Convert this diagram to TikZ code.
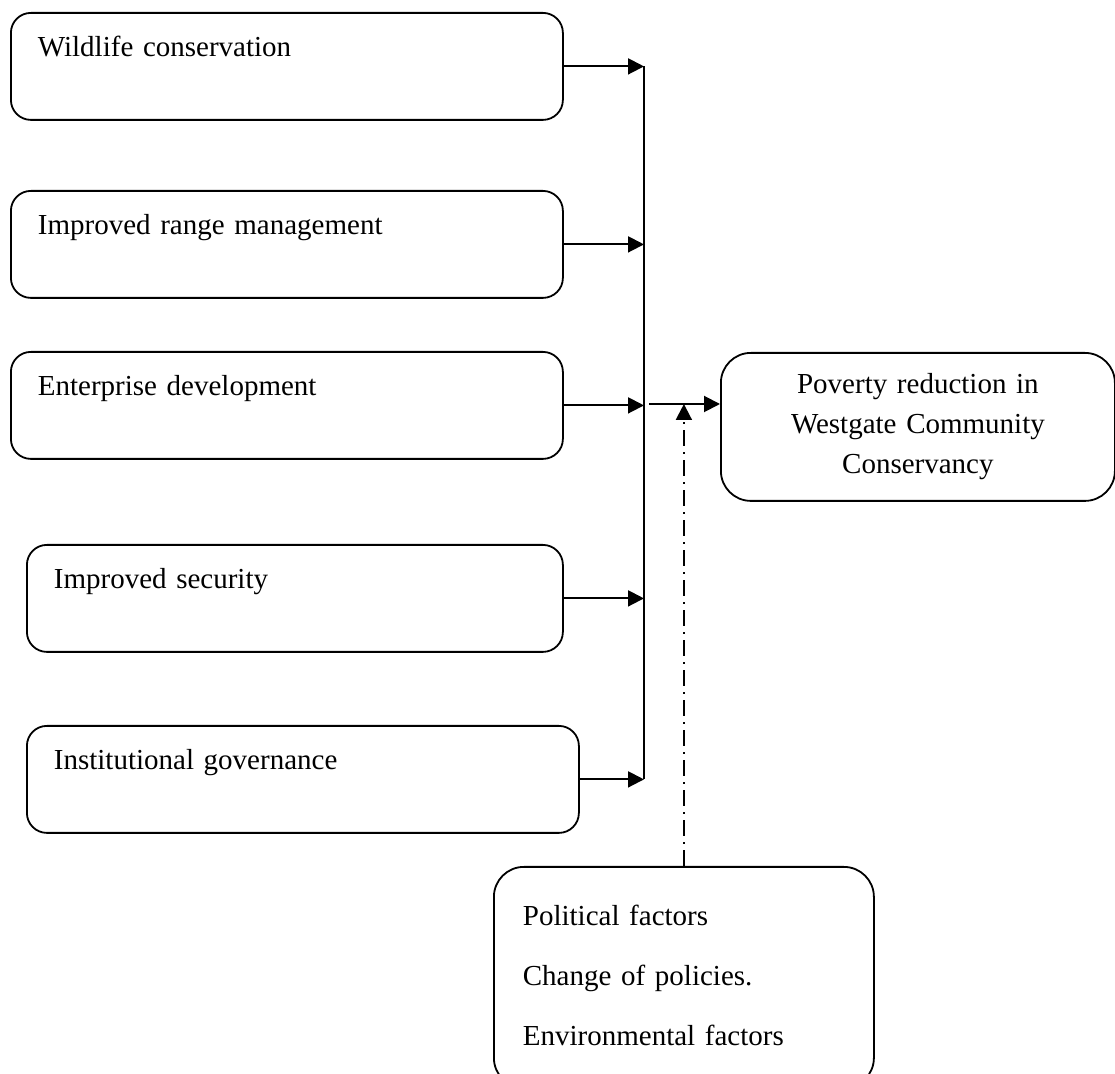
\documentclass[tikz,border=0pt]{standalone}
\usepackage{fontspec}
\setmainfont{Liberation Serif}
\usepackage{tikz}
\usetikzlibrary{arrows.meta, positioning}

\begin{document}
\begin{tikzpicture}[
  x=0.5pt,
  y=-0.5pt,
  font=\fontsize{14.5}{20}\selectfont,
  factorbox/.style={
    rectangle,
    draw=black,
    line width=0.9pt,
    rounded corners=10pt,
    anchor=north west,
    align=left,
    inner xsep=13.5pt,
    inner ysep=0pt,
    text height=22pt,
    text depth=31.5pt
  },
  outcomebox/.style={
    rectangle,
    draw=black,
    line width=0.9pt,
    rounded corners=15pt,
    anchor=north west,
    text width=190pt,
    minimum width=197pt,
    minimum height=74pt,
    align=center,
    inner sep=0pt
  },
  riskbox/.style={
    rectangle,
    draw=black,
    line width=0.9pt,
    rounded corners=15pt,
    anchor=north west,
    font=\fontsize{14.5}{30}\selectfont,
    text width=161pt,
    align=left,
    inner xsep=14.5pt,
    inner ysep=0pt,
    text height=29.5pt,
    text depth=81pt
  },
  flowarrow/.style={
    -{Triangle[length=8pt,width=8pt]},
    line width=1pt,
    draw=black
  },
  spineline/.style={
    line width=1pt,
    draw=black
  },
  riskarrow/.style={
    -{Triangle[length=8pt,width=8pt]},
    line width=1pt,
    draw=black,
    dash pattern=on 8pt off 3pt on 1pt off 3pt
  }
]
\useasboundingbox (0,0) rectangle (1115,1074);

% independent variables
\node[factorbox, text width=249pt] (wildlife) at (10,12) {Wildlife conservation};
\node[factorbox, text width=249pt] (range) at (10,190) {Improved range management};
\node[factorbox, text width=249pt] (enterprise) at (10,351) {Enterprise development};
\node[factorbox, text width=241pt] (security) at (26,544) {Improved security};
\node[factorbox, text width=249pt] (governance) at (26,725) {Institutional governance};

% dependent variable
\node[outcomebox] (poverty) at (720,352) {Poverty reduction in\\Westgate Community\\Conservancy};

% intervening variables
\node[riskbox] (political) at (493,866) {Political factors\\[0pt]
  Change of policies.\\[0pt]
  Environmental factors};

\coordinate (spine) at (644,0);
\coordinate (hub) at (649,404);

\draw[flowarrow] (wildlife.east) -- (wildlife.east -| spine);
\draw[flowarrow] (range.east) -- (range.east -| spine);
\draw[flowarrow] (enterprise.east) -- (enterprise.east -| spine);
\draw[flowarrow] (security.east) -- (security.east -| spine);
\draw[flowarrow] (governance.east) -- (governance.east -| spine);
\draw[spineline] (wildlife.east -| spine) -- (governance.east -| spine);

\draw[flowarrow] (hub) -- (hub -| poverty.west);
\draw[riskarrow] (political.north) -- (political.north |- hub);

\end{tikzpicture}
\end{document}
